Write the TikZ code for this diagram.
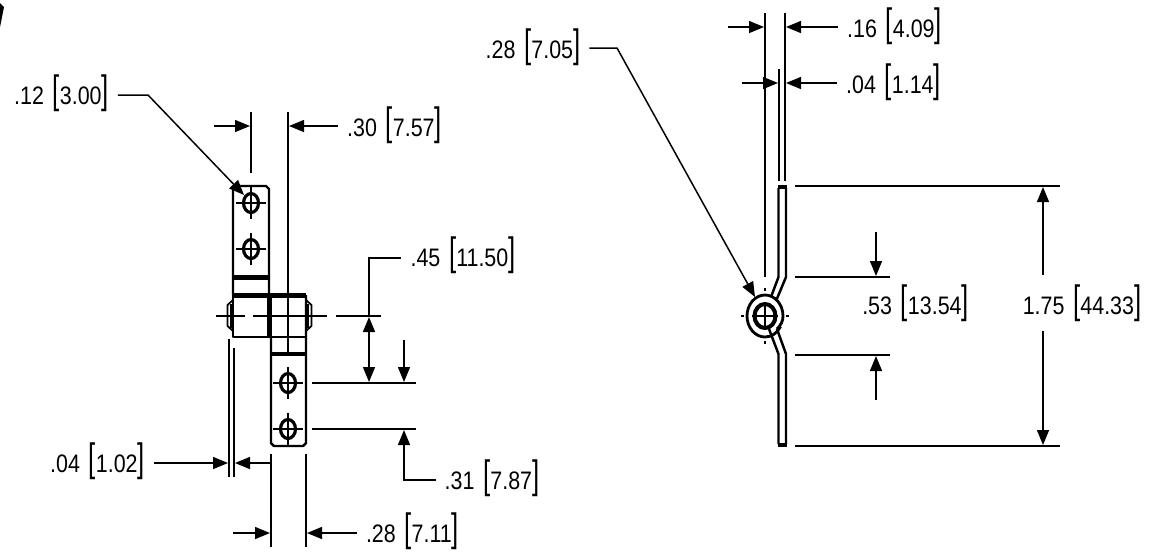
\documentclass[tikz,border=0pt]{standalone}
\usepackage{fontspec}
\setmainfont{Liberation Sans}
\usetikzlibrary{arrows.meta}
\tikzstyle{dimtext}=[inner sep=5pt, font=\fontsize{12.2}{14}\selectfont, text=black]
\tikzstyle{thin1}=[line width=0.85pt, black]
\tikzstyle{arrow1}=[line width=0.85pt, -{Triangle[length=0.3cm,width=0.24cm]}]
\tikzstyle{arrow2}=[line width=0.85pt, {Triangle[length=0.3cm,width=0.24cm]}-{Triangle[length=0.3cm,width=0.24cm]}]
\tikzstyle{part1}=[line width=1.4pt, line join=round]
\tikzstyle{part2}=[line width=2.6pt]
\tikzstyle{rivet1}=[line width=1pt, line join=round]
\tikzstyle{centre1}=[line width=0.8pt]
\newcommand{\dimbracket}[1]{\raisebox{0.9pt}{\scalebox{1.2}[1.85]{#1}}}
\newcommand{\dimlabel}[2]{\scalebox{1}[1.18]{#1}\hspace{5pt}\dimbracket{[}\scalebox{1}[1.18]{#2}\dimbracket{]}}

\begin{document}
\begin{tikzpicture}[x=0.02cm,y=-0.02cm]
\useasboundingbox (0,0) rectangle (1153,556);
\fill[black] (0,3) -- (4,7) -- (0,27) -- cycle;

% labels
\node (lblA) [dimtext] at (61.5,93) {\dimlabel{.12}{3.00}};
\node (lblB) [dimtext] at (394.5,125) {\dimlabel{.30}{7.57}};
\node (lblC) [dimtext] at (463,255) {\dimlabel{.45}{11.50}};
\node (lblD) [dimtext] at (97.5,461) {\dimlabel{.04}{1.02}};
\node (lblE) [dimtext] at (492,478) {\dimlabel{.31}{7.87}};
\node (lblF) [dimtext] at (412.5,531) {\dimlabel{.28}{7.11}};
\node (lblG) [dimtext] at (533,47) {\dimlabel{.28}{7.05}};
\node (lblH) [dimtext] at (894.5,26) {\dimlabel{.16}{4.09}};
\node (lblI) [dimtext] at (893.5,82) {\dimlabel{.04}{1.14}};
\node (lblJ) [dimtext] at (915.5,303) {\dimlabel{.53}{13.54}};
\node (lblK) [dimtext] at (1082,303) {\dimlabel{1.75}{44.33}};

% left view, upper tab and block
\draw[part1] (233,295) -- (233,186) -- (266,186) -- (269,189) -- (269,295);
\draw[part2] (233,277.5) -- (269,277.5);
\draw[part2] (233,295.5) -- (306,295.5);
\draw[part1] (233,295) -- (233,337) -- (306,337);
\draw[line width=2.4pt] (269.5,296) -- (269.5,337);
\draw[part1] (306,295) -- (306,443) -- (303,446) -- (274,446) -- (271,443) -- (271,337);
\draw[part2] (271,354) -- (306,354);
\draw[rivet1] (233,300) -- (227.5,305) -- (227.5,326) -- (233,331);
\draw[rivet1] (231,304) -- (231,328);
\draw[rivet1] (306,300) -- (311.5,305) -- (311.5,326) -- (306,331);
\draw[rivet1] (308,304) -- (308,328);
\foreach \hx/\hy in {251/203, 251/249, 288/383, 288/429}
{
\draw[line width=1.8pt] (\hx,\hy) ellipse (7.5 and 9.5);
\draw[centre1] (\hx-15,\hy) -- (\hx+15,\hy);
\draw[centre1] (\hx,\hy-16) -- (\hx,\hy+16);
}

% centre line
\coordinate (c1) at (216,316); \coordinate (c2) at (245,316);
\coordinate (c3) at (253,316); \coordinate (c4) at (327,316);
\coordinate (c5) at (336,316); \coordinate (c6) at (381,316);
\draw[centre1] (c1)--(c2);
\draw[centre1] (c3)--(c4);
\draw[centre1] (c5)--(c6);

% left view, dimensions
\coordinate (a1) at (251,112); \coordinate (a2) at (251,173);
\coordinate (b1) at (288,112); \coordinate (b2) at (288,353);
\draw[thin1](a1)--(a2);
\draw[thin1](b1)--(b2);
\coordinate (a3) at (214,126); \coordinate (a4) at (250,126);
\coordinate (b3) at (289,126);
\draw[arrow1](a3)--(a4);
\draw[arrow1](lblB.west|-b3)--(b3);
\coordinate (d1) at (148,95); \coordinate (d2) at (244,195);
\draw[arrow1](lblA.east|-d1)--(d1)--(d2);
\coordinate (e1) at (369,258); \coordinate (e2) at (369,317); \coordinate (e3) at (369,382);
\draw[thin1](lblC.west|-e1)--(e1)--(e2);
\draw[arrow2](e2)--(e3);
\coordinate (f1) at (404,340); \coordinate (f2) at (404,382);
\draw[arrow1](f1)--(f2);
\coordinate (g1) at (312,383); \coordinate (g2) at (416,383);
\coordinate (g3) at (312,429); \coordinate (g4) at (416,429);
\draw[thin1](g1)--(g2);
\draw[thin1](g3)--(g4);
\coordinate (h1) at (404,480); \coordinate (h2) at (404,430);
\draw[arrow1](lblE.west|-h1)--(h1)--(h2);
\coordinate (i1) at (229,339); \coordinate (i2) at (229,477);
\coordinate (i3) at (234,348); \coordinate (i4) at (234,477);
\draw[thin1](i1)--(i2);
\draw[thin1](i3)--(i4);
\coordinate (i5) at (228,463); \coordinate (i6) at (271,463); \coordinate (i7) at (235,463);
\draw[arrow1](lblD.east|-i5)--(i5);
\draw[arrow1](i6)--(i7);
\coordinate (j1) at (271,454); \coordinate (j2) at (271,547);
\coordinate (j3) at (306,454); \coordinate (j4) at (306,547);
\draw[thin1](j1)--(j2);
\draw[thin1](j3)--(j4);
\coordinate (j5) at (233,533); \coordinate (j6) at (270,533); \coordinate (j7) at (307,533);
\draw[arrow1](j5)--(j6);
\draw[arrow1](lblF.west|-j7)--(j7);

% right view, strip
\draw[part1] (778.5,188) -- (778.5,277) -- (771,297);
\draw[part1] (786,188) -- (786,277) -- (776,301);
\draw[part1] (769,329) -- (778.5,354) -- (778.5,444);
\draw[part1] (777,329) -- (786,354) -- (786,444);
\draw[part2] (777.5,187) -- (787,187);
\draw[part2] (777.5,445) -- (787,445);
\draw[line width=1.6pt] (777,329) .. controls (781,325) and (783,321) .. (783,316) arc (0:-270:18 and 21) arc (-270:-330:18 and 21);
\draw[line width=2.3pt] (765,316) ellipse (10.5 and 12);
\draw[centre1] (752,316) -- (778,316);
\draw[centre1] (765,303) -- (765,329);
\draw[centre1] (741,316) -- (744,316);
\draw[centre1] (786,316) -- (789,316);
\draw[centre1] (765,288) -- (765,291);
\draw[centre1] (765,341) -- (765,344);

% right view, dimensions
\coordinate (k1) at (765,13); \coordinate (k2) at (765,277);
\coordinate (k3) at (785,13); \coordinate (k4) at (785,181);
\coordinate (k5) at (779,69); \coordinate (k6) at (779,181);
\draw[thin1](k1)--(k2);
\draw[thin1](k3)--(k4);
\draw[thin1](k5)--(k6);
\coordinate (m1) at (728,27); \coordinate (m2) at (764,27); \coordinate (m3) at (786,27);
\draw[arrow1](m1)--(m2);
\draw[arrow1](lblH.west|-m3)--(m3);
\coordinate (n1) at (742,83); \coordinate (n2) at (778,83); \coordinate (n3) at (786,83);
\draw[arrow1](n1)--(n2);
\draw[arrow1](lblI.west|-n3)--(n3);
\coordinate (o1) at (617,48); \coordinate (o2) at (755,297);
\draw[arrow1](lblG.east|-o1)--(o1)--(o2);
\coordinate (p1) at (795,186); \coordinate (p2) at (1060,186);
\coordinate (p3) at (795,277); \coordinate (p4) at (890,277);
\coordinate (p5) at (795,355); \coordinate (p6) at (890,355);
\coordinate (p7) at (795,446); \coordinate (p8) at (1060,446);
\draw[thin1](p1)--(p2);
\draw[thin1](p3)--(p4);
\draw[thin1](p5)--(p6);
\draw[thin1](p7)--(p8);
\coordinate (q1) at (876,232); \coordinate (q2) at (876,276);
\coordinate (q3) at (876,400); \coordinate (q4) at (876,356);
\draw[arrow1](q1)--(q2);
\draw[arrow1](q3)--(q4);
\coordinate (r1) at (1043,187); \coordinate (r2) at (1043,445);
\draw[arrow1](lblK.north-|r1)--(r1);
\draw[arrow1](lblK.south-|r2)--(r2);
\end{tikzpicture}
\end{document}
